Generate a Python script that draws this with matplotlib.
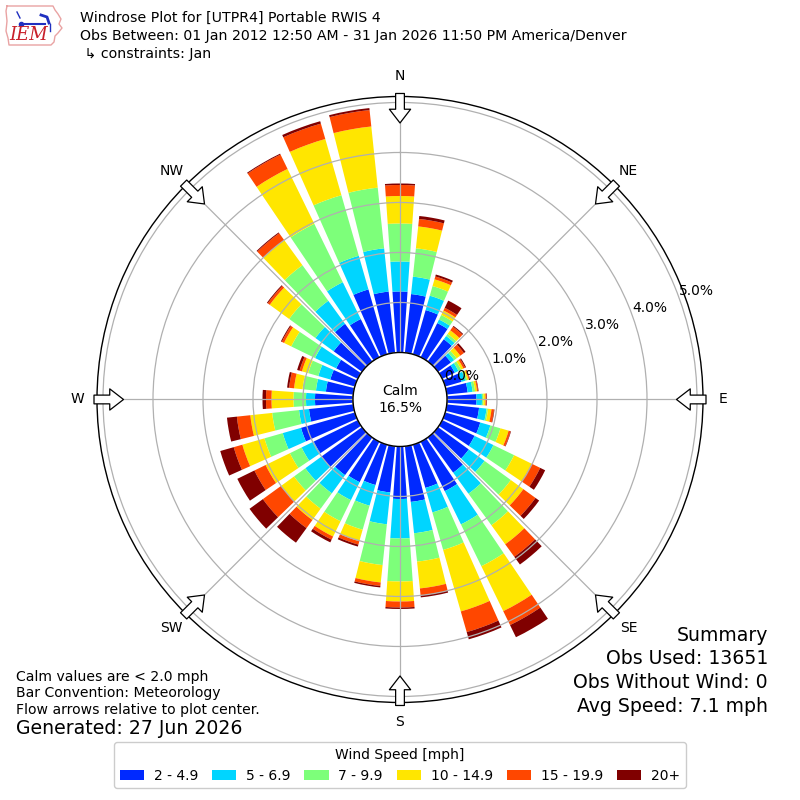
import matplotlib
matplotlib.use("Agg")
import matplotlib.pyplot as plt
import numpy as np
from matplotlib.patches import Circle, Patch

# wind direction bins (deg, meteorological) and speed classes
directions = np.arange(0, 360, 10)
speed_labels = ["2 - 4.9", "5 - 6.9", "7 - 9.9", "10 - 14.9", "15 - 19.9", "20+"]

# cumulative frequency (%) at the top of each speed class, per direction
cum_2_5 = [1.22, 1.18, 0.92, 0.76, 0.55, 0.32, 0.28, 0.34, 0.42, 0.59, 0.65, 0.73,
           0.72, 0.76, 0.87, 1.10, 0.90, 1.12, 1.05, 0.93, 0.84, 0.90, 0.93, 1.00,
           0.98, 1.12, 0.89, 0.76, 0.55, 0.51, 0.48, 0.70, 0.93, 0.85, 1.35, 1.23]
cum_5_7 = [1.82, 1.53, 1.22, 0.84, 0.63, 0.40, 0.36, 0.42, 0.52, 0.70, 0.80, 0.94,
           1.14, 1.15, 1.39, 1.84, 1.41, 1.75, 1.84, 1.57, 1.27, 1.30, 1.38, 1.40,
           1.25, 1.50, 1.09, 0.94, 0.75, 0.76, 0.95, 1.15, 1.50, 1.67, 2.05, 2.10]
cum_7_10 = [2.58, 2.10, 1.42, 0.94, 0.68, 0.46, 0.42, 0.46, 0.57, 0.73, 0.83, 1.15,
            1.60, 1.80, 2.17, 2.77, 2.19, 2.32, 2.70, 2.39, 1.77, 1.77, 1.76, 1.68,
            1.51, 1.88, 1.63, 1.19, 1.02, 0.97, 1.48, 1.80, 2.38, 2.97, 3.31, 3.32]
cum_10_15 = [3.13, 2.54, 1.56, 1.04, 0.77, 0.55, 0.47, 0.49, 0.61, 0.77, 0.90, 1.32,
             1.99, 2.11, 2.64, 3.77, 3.47, 2.86, 3.10, 2.74, 2.01, 2.11, 2.04, 2.00,
             2.05, 2.34, 2.07, 1.63, 1.19, 1.10, 1.64, 2.28, 3.00, 4.19, 4.48, 4.55]
cum_15_20 = [3.35, 2.69, 1.62, 1.10, 0.86, 0.64, 0.51, 0.51, 0.63, 0.79, 0.95, 1.36,
             2.18, 2.41, 2.95, 4.08, 3.90, 3.00, 3.22, 2.81, 2.08, 2.18, 2.24, 2.45,
             2.30, 2.52, 2.34, 1.74, 1.29, 1.15, 1.69, 2.33, 3.17, 4.51, 4.80, 4.88]
cum_20up = [3.38, 2.75, 1.66, 1.26, 0.88, 0.68, 0.53, 0.52, 0.64, 0.80, 0.96, 1.37,
            2.29, 2.50, 3.14, 4.35, 4.05, 3.04, 3.25, 2.84, 2.12, 2.24, 2.60, 2.78,
            2.68, 2.80, 2.54, 1.81, 1.33, 1.20, 1.71, 2.35, 3.19, 4.53, 4.85, 4.92]

calm_pct = 16.5
rings = [0, 1, 2, 3, 4, 5]
compass = ["N", "NE", "E", "SE", "S", "SW", "W", "NW"]

cumulative = [cum_2_5, cum_5_7, cum_7_10, cum_10_15, cum_15_20, cum_20up]
colors = plt.cm.jet(np.arange(1, 7) / 6.0)

fig = plt.figure(figsize=(8, 8), dpi=100)
ax = fig.add_axes([0.12125, 0.1219, 0.7575, 0.7575], projection="polar")
ax.set_theta_zero_location("N")
ax.set_theta_direction(-1)

theta = np.deg2rad(directions)
width = np.deg2rad(10) * 0.8
bottom = np.zeros(len(directions))
for cum, color in zip(cumulative, colors):
    top = np.array(cum)
    ax.bar(theta, top - bottom, width=width, bottom=bottom, color=color,
           edgecolor="none", zorder=1)
    bottom = top

ax.set_rorigin(-0.94)
ax.set_ylim(0, 5.12)
ax.set_axisbelow(False)
ax.set_rgrids(rings, labels=[f"{r:.1f}%" for r in rings], angle=70, fontsize=10)
ax.set_xticks(np.deg2rad(np.arange(0, 360, 45)))
ax.set_xticklabels([])
ax.grid(True, color="#b0b0b0", lw=0.9)
ax.spines["polar"].set_linewidth(1.0)

# compass labels and inward flow arrows
for i, lab in enumerate(compass):
    ang = np.deg2rad(i * 45)
    ax.text(ang, 5.52, lab, ha="center", va="center", fontsize=10, clip_on=False)
    ax.annotate("", xy=(ang, 4.59), xytext=(ang, 5.18), annotation_clip=False,
                arrowprops=dict(arrowstyle="simple,head_length=0.55,head_width=0.85,tail_width=0.35",
                                fc="white", ec="black", lw=0.9, shrinkA=0, shrinkB=0,
                                mutation_scale=18), zorder=4)

# calm circle
ax.add_patch(Circle((0.5, 0.5), 47 / 606, transform=ax.transAxes, fc="white",
                    ec="black", lw=1.0, zorder=5, clip_on=False))
ax.text(0.5, 0.5, f"Calm\n{calm_pct}%", transform=ax.transAxes, ha="center",
        va="center", fontsize=10, zorder=6)

# header
fig.text(0.1, 0.9775, "Windrose Plot for [UTPR4] Portable RWIS 4", fontsize=10.15, va="center")
fig.text(0.1, 0.9545, "Obs Between: 01 Jan 2012 12:50 AM - 31 Jan 2026 11:50 PM America/Denver",
         fontsize=10.15, va="center")
fig.text(0.1, 0.9325, " \u21b3 constraints: Jan", fontsize=10.15, va="center")

# small IEM logo
lax = fig.add_axes([0, 1 - 60 / 800, 80 / 800, 60 / 800])
lax.set_xlim(0, 80)
lax.set_ylim(60, 0)
lax.axis("off")
outline = np.array([(7, 6), (53, 6), (55, 10), (58, 14), (61, 19), (59, 24), (62, 28),
                    (58, 33), (55, 36), (54, 42), (51, 45), (9, 45), (8, 38), (6, 31),
                    (7, 21), (6, 11), (7, 6)])
lax.plot(outline[:, 0], outline[:, 1], color="#e9a3a3", lw=1)
lax.text(29, 35, "IEM", color="#c8202a", fontsize=13, style="italic", family="serif",
         ha="center", va="center")
lax.plot([21, 45], [24, 24], color="#2030c0", lw=1.5)
lax.plot([21], [24], "o", color="#2030c0", ms=3)
lax.plot([17, 20], [12, 18], color="#2030c0", lw=1)
lax.plot([41, 47, 49], [15, 17, 23], color="#2030c0", lw=2)
lax.plot([50, 50], [24, 31], color="#2030c0", lw=1)

# footnotes
fig.text(0.02, 0.154, "Calm values are < 2.0 mph", fontsize=10.1, va="center")
fig.text(0.02, 0.134, "Bar Convention: Meteorology", fontsize=10.1, va="center")
fig.text(0.02, 0.1125, "Flow arrows relative to plot center.", fontsize=10.1, va="center")
fig.text(0.02, 0.089, "Generated: 27 Jun 2026", fontsize=13.6, va="center")

summary = ["Summary", "Obs Used: 13651", "Obs Without Wind: 0", "Avg Speed: 7.1 mph"]
for k, line in enumerate(summary):
    fig.text(0.96, 0.206 - k * 0.0295, line, fontsize=13.6, ha="right", va="center")

handles = [Patch(facecolor=c, edgecolor="none") for c in colors]
fig.legend(handles, speed_labels, loc="lower center", bbox_to_anchor=(0.5, 0.006),
           ncol=6, title="Wind Speed [mph]", fontsize=10, title_fontsize=10,
           handlelength=1.75, handletextpad=0.7, columnspacing=1.0, framealpha=1)

fig.savefig("out.png", dpi=100)
